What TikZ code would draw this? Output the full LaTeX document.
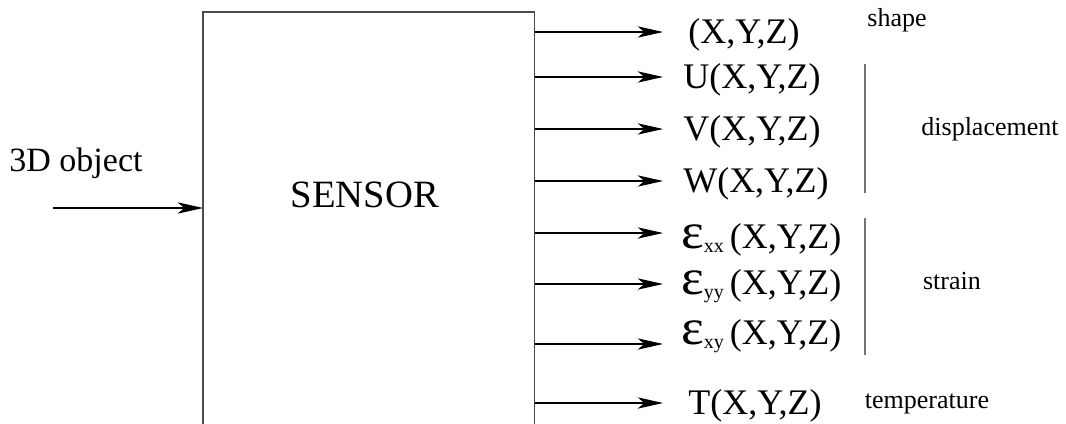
\documentclass[tikz,border=0pt]{standalone}
\usepackage{fontspec}
\setmainfont{Liberation Serif}
\usepackage{graphicx}
\usetikzlibrary{arrows.meta}

\newcommand{\eps}[1]{\scalebox{1.5}[1.4]{ε}\raisebox{-3pt}{\fontsize{15}{15}\selectfont #1}\,}

\begin{document}
\begin{tikzpicture}[x=0.75pt,y=-0.75pt,>={Stealth[length=19pt,width=8.5pt,inset=5pt]},
    outarrow/.style={->,line width=0.8pt},
    lbl/.style={anchor=west,inner sep=0pt,text height=19pt,text depth=2pt,font=\fontsize{27}{27}\selectfont},
    note/.style={font=\fontsize{19.5}{19.5}\selectfont},
    bar/.style={draw=black!55,line width=1pt}]
        \useasboundingbox (0,0) rectangle (1066,424);

        \node[anchor=north west,minimum width=248.25pt,minimum height=309pt,inner sep=0pt] (sensor) at (203,12) {};
        \draw[draw=black!70,line width=1pt] (sensor.south west) -- (sensor.north west) -- (sensor.north east) -- (sensor.south east);
        \node[font=\fontsize{29}{29}\selectfont] (name) at (365,195) {SENSOR};

        \node[font=\fontsize{25.5}{25.5}\selectfont] (obj) at (76,163) {3D object};
        \coordinate (in) at (53,208);
        \draw[outarrow] (in) -- (sensor.west |- in);

        % arrow tips end on this column
        \coordinate (tips) at (663,0);

        \node[lbl] (shape) at (688,32) {(X,Y,Z)};
        \node[lbl] (u) at (683,77) {U(X,Y,Z)};
        \node[lbl] (v) at (683,129) {V(X,Y,Z)};
        \node[lbl] (w) at (683,181) {W(X,Y,Z)};
        \node[lbl,text height=25pt,text depth=2.5pt] (exx) at (681,233) {\eps{xx}(X,Y,Z)};
        \node[lbl,text height=17pt,text depth=2pt] (eyy) at (681,284) {\eps{yy}(X,Y,Z)};
        \node[lbl,text height=12pt,text depth=12pt] (exy) at (681,344) {\eps{xy}(X,Y,Z)};
        \node[lbl] (t) at (688,403) {T(X,Y,Z)};

        \foreach \n in {shape,u,v,w,exx,eyy,exy,t}
            \draw[outarrow] (sensor.east |- \n.west) -- (tips |- \n.west);

        \draw[bar] (865,64) -- (865,193);
        \draw[bar] (865,218) -- (865,355);

        \node[note] (shp) at (897,20) {shape};
        \node[note] (disp) at (990,129) {displacement};
        \node[note] (str) at (952,281) {strain};
        \node[note] (temp) at (927,404) {temperature};
      \end{tikzpicture}
\end{document}
